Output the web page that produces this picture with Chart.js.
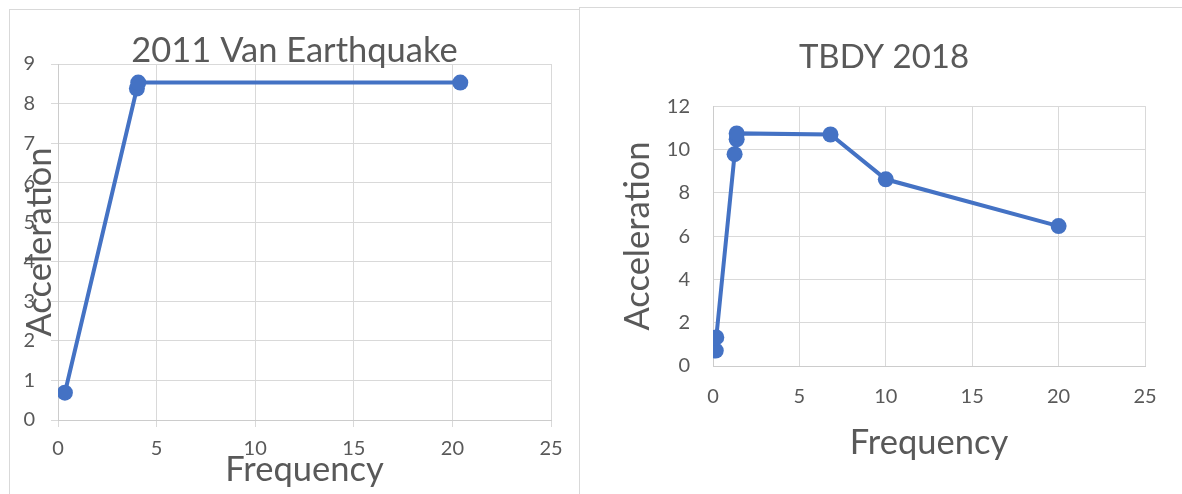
<!DOCTYPE html>
<html>
<head>
<meta charset="utf-8">
<script src="https://cdn.jsdelivr.net/npm/chart.js@4/dist/chart.umd.min.js"></script>
<style>
  body { margin: 0; background: #fff; overflow: hidden; }
  .panel { position: absolute; border: 1px solid #d9d9d9; background: #fff; }
  canvas { display: block; }
</style>
</head>
<body>
<div class="panel" id="leftBox" style="left:9px; top:9px;">
  <canvas id="vanChart" width="569" height="484"></canvas>
</div>
<div class="panel" id="rightBox" style="left:579px; top:7px;">
  <canvas id="tbdyChart" width="608" height="486"></canvas>
</div>
<script>
// 2011 Van Earthquake
const vanFreq = [0.35, 4.0, 4.07, 20.4];
const vanAcc = [0.69, 8.38, 8.53, 8.53];
// TBDY 2018
const tbdyFreq = [0.16, 0.19, 1.25, 1.37, 1.37, 6.8, 10.0, 20.0];
const tbdyAcc = [0.71, 1.32, 9.78, 10.47, 10.74, 10.69, 8.62, 6.46];

const xMax = 25;
const vanYMax = 9;
const tbdyYMax = 12;

const blue = "#4472C4";
const grey = "#595959";
const gridGrey = "#d9d9d9";

Chart.defaults.font.family = "Lato";
Chart.defaults.color = grey;

function toPoints(xs, ys) {
  var pts = [];
  for (var i = 0; i < xs.length; i++) {
    pts.push({ x: xs[i], y: ys[i] });
  }
  return pts;
}

function makeChart(id, o) {
  return new Chart(id, {
    type: "scatter",
    data: {
      datasets: [
        {
          data: toPoints(o.xs, o.ys),
          showLine: true,
          borderColor: blue,
          backgroundColor: blue,
          borderWidth: 4,
          pointRadius: 8,
          pointBorderWidth: 0,
          pointHoverRadius: 8,
        },
      ],
    },
    options: {
      responsive: false,
      animation: false,
      devicePixelRatio: 1,
      layout: { padding: 0 },
      plugins: {
        legend: { display: false },
        tooltip: { enabled: false },
        title: {
          display: true,
          text: o.title,
          color: grey,
          font: { size: o.titleSize, weight: "normal" },
          padding: o.titlePad,
        },
      },
      scales: {
        x: {
          type: "linear",
          min: 0,
          max: xMax,
          afterFit: function (scale) { scale.height = o.xHeight; },
          ticks: { stepSize: 5, padding: o.xTickPad, font: { size: 20 }, color: grey },
          grid: { color: gridGrey, drawTicks: o.ticks, tickLength: 7 },
          border: { color: "#cccccc" },
          title: {
            display: true,
            text: "Frequency",
            color: grey,
            font: { size: 34.5 },
            padding: { top: 0, bottom: o.xTitlePad },
          },
        },
        y: {
          type: "linear",
          min: 0,
          max: o.yMax,
          afterFit: function (scale) { scale.width = o.yWidth; },
          ticks: { stepSize: o.yStep, padding: o.yTickPad, font: { size: 20 }, color: grey },
          grid: { color: gridGrey, drawTicks: o.ticks, tickLength: 7 },
          border: { color: "#cccccc" },
          title: {
            display: true,
            text: "Acceleration",
            color: grey,
            font: { size: 34.5 },
            padding: { top: o.yTitlePad, bottom: 0 },
          },
        },
        // empty right-hand axis, only keeps white space at the right
        yRight: {
          type: "linear",
          position: "right",
          min: 0,
          max: o.yMax,
          afterFit: function (scale) { scale.width = o.padRight; },
          ticks: { display: false },
          grid: { display: false, drawTicks: false },
          border: { display: false },
        },
      },
    },
  });
}

makeChart("vanChart", {
  xs: vanFreq,
  ys: vanAcc,
  title: "2011 Van Earthquake",
  titleSize: 34.5,
  titlePad: { top: 20, bottom: -7.4 },
  padRight: 28,
  xHeight: 74,
  yWidth: 48,
  yMax: vanYMax,
  yStep: 1,
  ticks: true,
  xTickPad: 10,
  yTickPad: 16,
  xTitlePad: 3,
  yTitlePad: 9,
});

makeChart("tbdyChart", {
  xs: tbdyFreq,
  ys: tbdyAcc,
  title: "TBDY 2018",
  titleSize: 33,
  titlePad: { top: 29.5, bottom: 29 },
  padRight: 43,
  xHeight: 128,
  yWidth: 133,
  yMax: tbdyYMax,
  yStep: 2,
  ticks: false,
  xTickPad: 19,
  yTickPad: 23,
  xTitlePad: 30,
  yTitlePad: 37,
});
</script>
</body>
</html>
